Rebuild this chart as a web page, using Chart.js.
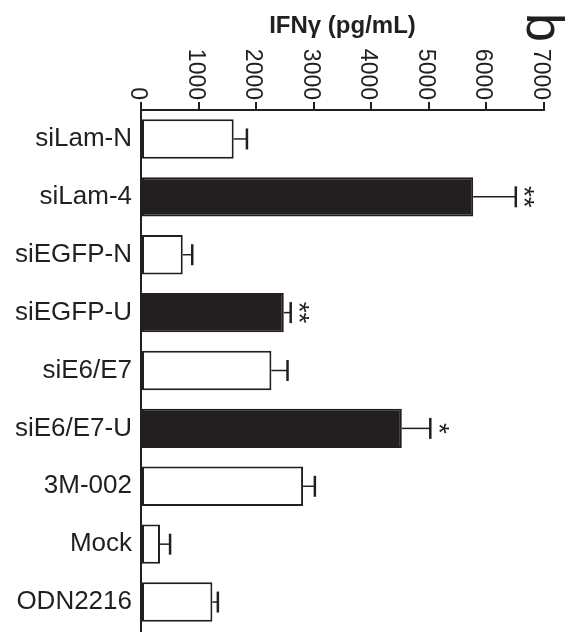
<!DOCTYPE html>
<html>
<head>
<meta charset="utf-8">
<script src="https://cdn.jsdelivr.net/npm/chart.js@4"></script>
<style>
  html, body { margin: 0; padding: 0; background: #fff; }
  #wrap { width: 574px; height: 638px; }
</style>
</head>
<body>
<div id="wrap"><canvas id="chart"></canvas></div>
<script>
const categories = ['siLam-N', 'siLam-4', 'siEGFP-N', 'siEGFP-U', 'siE6/E7', 'siE6/E7-U', '3M-002', 'Mock', 'ODN2216'];
const ifnMeans = [1610, 5770, 725, 2480, 2265, 4530, 2815, 330, 1240];
const ifnErrors = [230, 740, 165, 120, 280, 495, 205, 175, 95];
const significance = ['', '**', '', '**', '', '*', '', '', ''];
const darkBars = ['siLam-4', 'siEGFP-U', 'siE6/E7-U'];
const tickValues = [0, 1000, 2000, 3000, 4000, 5000, 6000, 7000];

const ink = '#231f20';
const family = "'Liberation Sans', Arial, Helvetica, sans-serif";

// the whole figure is turned a quarter clockwise, so loose text is drawn turned too
function drawTurned(ctx, text, x, y, font, align, baseline) {
    ctx.save();
    ctx.translate(x, y);
    ctx.rotate(Math.PI / 2);
    ctx.font = font;
    ctx.fillStyle = ink;
    ctx.textAlign = align;
    ctx.textBaseline = baseline;
    ctx.fillText(text, 0, 0);
    ctx.restore();
}

const decorations = {
    id: 'decorations',
    afterDatasetsDraw(chart) {
        const ctx = chart.ctx;
        const xScale = chart.scales.x;
        const bars = chart.getDatasetMeta(0).data;
        ctx.save();
        ctx.strokeStyle = ink;
        bars.forEach((bar, i) => {
            const x0 = xScale.getPixelForValue(ifnMeans[i]);
            const x1 = xScale.getPixelForValue(ifnMeans[i] + ifnErrors[i]);
            ctx.lineWidth = 1.5;
            ctx.beginPath();
            ctx.moveTo(x0, bar.y);
            ctx.lineTo(x1, bar.y);
            ctx.stroke();
            ctx.lineWidth = 2.5;
            ctx.beginPath();
            ctx.moveTo(x1, bar.y - 10.5);
            ctx.lineTo(x1, bar.y + 10.5);
            ctx.stroke();
            if (significance[i]) {
                drawTurned(ctx, significance[i], x1 + 7, bar.y, '28px ' + family, 'center', 'middle');
            }
        });
        ctx.restore();
    },
    afterDraw(chart) {
        const ctx = chart.ctx;
        const xScale = chart.scales.x;
        xScale.ticks.forEach(t => {
            const px = xScale.getPixelForValue(t.value);
            drawTurned(ctx, String(t.value), px - 10, 100, '23px ' + family, 'right', 'alphabetic');
        });
        drawTurned(ctx, 'b', 527, 13, '52px ' + family, 'left', 'alphabetic');
    }
};

new Chart(document.getElementById('chart').getContext('2d'), {
    type: 'bar',
    data: {
        labels: categories,
        datasets: [{
            data: ifnMeans,
            backgroundColor: ctx => darkBars.includes(categories[ctx.dataIndex]) ? ink : '#ffffff',
            borderColor: ink,
            borderWidth: 2,
            borderSkipped: false,
            barPercentage: 0.68,
            categoryPercentage: 1
        }]
    },
    options: {
        indexAxis: 'y',
        responsive: true,
        maintainAspectRatio: false,
        animation: false,
        layout: { padding: { left: 0, right: 30, top: 0, bottom: 7 } },
        plugins: {
            legend: { display: false },
            tooltip: { enabled: false }
        },
        scales: {
            x: {
                type: 'linear',
                position: 'top',
                min: 0,
                max: 7000,
                afterBuildTicks: s => { s.ticks = tickValues.map(v => ({ value: v })); },
                afterFit: s => { s.height = 110; },
                ticks: { display: false },
                grid: { display: true, drawOnChartArea: false, drawTicks: true, tickLength: 8, color: ink, lineWidth: 2 },
                border: { display: true, color: ink, width: 2 },
                title: {
                    display: true,
                    text: 'IFNγ (pg/mL)',
                    color: ink,
                    font: { family: family, size: 24, weight: 'bold' },
                    padding: { top: 12, bottom: 0 }
                }
            },
            y: {
                afterFit: s => {
                    s.width = 141;
                    s.paddingTop = 0;
                    s.paddingBottom = 0;
                },
                ticks: { color: ink, font: { family: family, size: 26 }, padding: 9 },
                grid: { display: false, drawTicks: false },
                border: { display: true, color: ink, width: 2 }
            }
        }
    },
    plugins: [decorations]
});
</script>
</body>
</html>
